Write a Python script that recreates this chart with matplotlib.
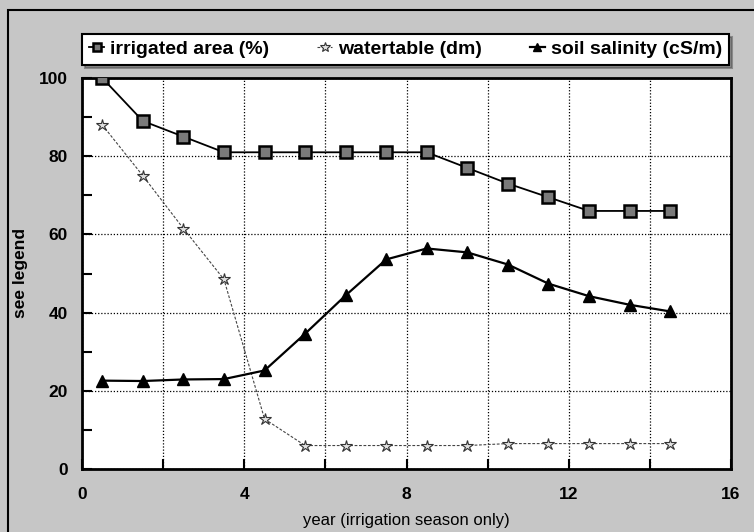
import matplotlib
matplotlib.use("Agg")
import matplotlib.pyplot as plt
from matplotlib.ticker import MultipleLocator
from matplotlib.patches import Rectangle

plt.rcParams['font.family'] = ['Liberation Sans', 'DejaVu Sans']

years = [0.5, 1.5, 2.5, 3.5, 4.5, 5.5, 6.5, 7.5, 8.5, 9.5, 10.5, 11.5, 12.5, 13.5, 14.5]
irrigated_area = [100, 89, 85, 81, 81, 81, 81, 81, 81, 77, 73, 69.5, 66, 66, 66]
watertable = [88, 75, 61.5, 48.5, 12.8, 6, 6, 6, 6, 6, 6.5, 6.5, 6.5, 6.5, 6.5]
soil_salinity = [22.6, 22.5, 22.9, 23, 25.2, 34.6, 44.4, 53.6, 56.4, 55.4, 52.3, 47.4, 44.2, 42, 40.3]

labels = ['irrigated area (%)', 'watertable (dm)', 'soil salinity (cS/m)']
xlabel = 'year (irrigation season only)'
ylabel = 'see legend'

W, H = 754, 532
fig = plt.figure(figsize=(W / 100, H / 100), dpi=100)
bg = '#c6c6c6'
fig.patch.set_facecolor(bg)

# outer frame
fig.patches.append(Rectangle((8 / W, -0.05), 1.2, 1 - 10 / H + 0.05, transform=fig.transFigure,
                             fill=False, edgecolor='black', linewidth=1.5, zorder=0))

ax = fig.add_axes([82 / W, 1 - 469 / H, (731 - 82) / W, (469 - 78) / H])
ax.set_facecolor('white')

l1, = ax.plot(years, irrigated_area, color='black', linewidth=1.3, marker='s', markersize=8,
              markerfacecolor='#7a7a7a', markeredgecolor='black', markeredgewidth=1.8, zorder=4)
l2, = ax.plot(years, watertable, color='#444444', linewidth=0.8, linestyle=(0, (2.5, 1.5)),
              marker='*', markersize=9, markerfacecolor='#e0e0e0', markeredgecolor='#333333',
              markeredgewidth=0.8, zorder=3)
l3, = ax.plot(years, soil_salinity, color='black', linewidth=1.6, marker='^', markersize=8,
              markerfacecolor='black', markeredgecolor='black', zorder=4)

ax.set_xlim(0, 16)
ax.set_ylim(0, 100)
ax.xaxis.set_major_locator(MultipleLocator(4))
ax.xaxis.set_minor_locator(MultipleLocator(2))
ax.yaxis.set_major_locator(MultipleLocator(20))
ax.yaxis.set_minor_locator(MultipleLocator(10))

ax.grid(True, which='major', color='black', linestyle=(0, (1, 1.5)), linewidth=0.9)
ax.grid(True, which='minor', axis='x', color='black', linestyle=(0, (1, 1.5)), linewidth=0.9)

ax.tick_params(which='both', direction='in', length=7, width=1.5, color='black',
               top=False, right=False)
ax.tick_params(axis='x', which='major', pad=13, labelsize=12.5)
ax.tick_params(axis='y', which='major', pad=10, labelsize=12.5)
for t in ax.get_xticklabels() + ax.get_yticklabels():
    t.set_fontweight('bold')

for s in ax.spines.values():
    s.set_linewidth(2)
    s.set_color('black')

ax.set_xlabel(xlabel, fontsize=12)
ax.xaxis.set_label_coords(0.5, (469 - 520) / 391, transform=ax.transAxes)
ax.xaxis.label.set_va('center')
ax.set_ylabel(ylabel, fontsize=12.5, fontweight='bold')
ax.yaxis.set_label_coords((21 - 82) / 649, 0.5, transform=ax.transAxes)
ax.yaxis.label.set_va('center')

leg = fig.legend([l1, l2, l3], labels, loc='lower left',
                 bbox_to_anchor=(82 / W, 1 - 65 / H, (729 - 82) / W, (65 - 28) / H),
                 mode='expand', ncol=3, frameon=True, fancybox=False, shadow=True,
                 edgecolor='black', facecolor='white', framealpha=1,
                 handlelength=0.8, handletextpad=0.3, borderaxespad=0, borderpad=0.35,
                 prop={'weight': 'bold', 'size': 14}, markerscale=0.8)
leg.get_frame().set_linewidth(1.5)

fig.savefig('out.png', dpi=100, facecolor=fig.get_facecolor())
